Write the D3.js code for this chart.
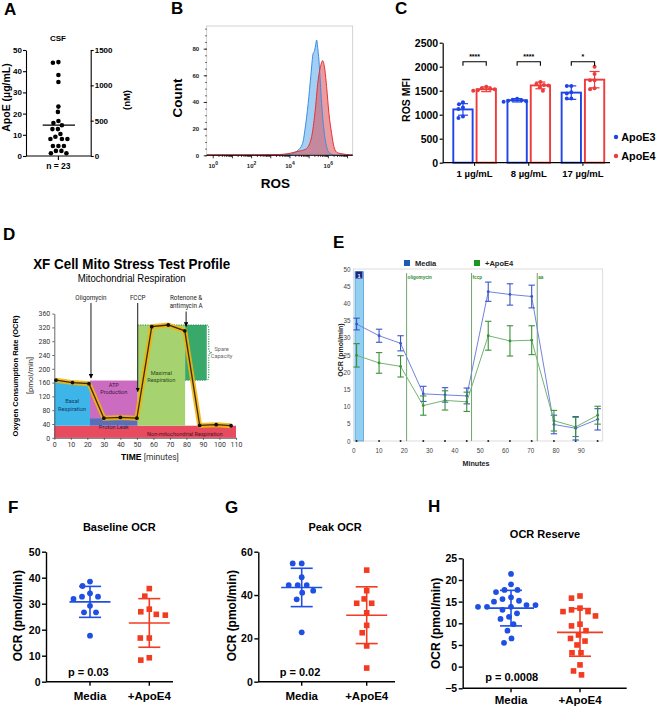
<!DOCTYPE html>
<html><head><meta charset="utf-8">
<script src="https://cdn.jsdelivr.net/npm/d3@7"></script>
<style>body{margin:0;background:#fff}svg{display:block}</style>
</head><body><svg id="chart" width="657" height="707"></svg>
<script>
// ---------------- DATA ----------------
// A: CSF ApoE
const csfApoE = [44.0,44.3,38.2,34.9,23.3,20.8,16.5,15.6,14.5,12.7,12.7,10.4,9.1,8.0,8.0,8.0,4.7,4.7,4.7,2.4,2.4,1.3,1.3];
const csfMean = 14.6;
const csfTicksUg = [0,10,20,30,40,50];
const csfTicksNM = [0,500,1000,1500];
// B: ROS histograms (log10 ROS, count)
const blueLogROS = [-0.34,3.0,4.0,4.17,4.43,4.66,4.78,4.95,5.09,5.21,5.27,5.33,5.39,5.45,5.51,5.58,5.65,5.77,5.91,6.08,6.34,7.27];
const blueCount  = [0,0,0.5,1.5,4,9,19,39,60,76.5,78,82,86.5,80,71.5,55,39,19,6.5,1.5,0,0];
const redLogROS  = [-0.34,2.0,3.47,4.0,4.34,4.6,4.86,5.13,5.30,5.47,5.59,5.70,5.82,5.91,6.03,6.17,6.29,6.46,6.77,7.1,7.27];
const redCount   = [0.4,0.4,0.6,1.5,2.7,3.5,5,14,31.5,56.5,66.5,71,64,51.5,31.5,16.5,6.5,2,1,0.4,0.4];
const countTicks = [0,20,40,60,80];
const rosTickExps = [0,2,4,6];
// C: ROS MFI
const doseGroups = ["1 µg/mL","8 µg/mL","17 µg/mL"];
const genotypes = ["ApoE3","ApoE4"];
const apoe3MFI = [1110,1300,1460], apoe3SD = [120,35,140];
const apoe4MFI = [1530,1610,1730], apoe4SD = [50,70,170];
const apoe3Reps = [[1260,1220,1150,1120,960,930],[1330,1310,1300,1290,1280,1270],[1600,1600,1470,1440,1340,1340]];
const apoe4Reps = [[1580,1550,1530,1510,1500,1540],[1680,1640,1610,1570,1500,1620],[2000,1850,1720,1720,1550,1530]];
const sigStars = ["****","****","*"];
const mfiTicks = [0,500,1000,1500,2000,2500];
// D: XF Cell Mito Stress Test profile
const profTime = [1,11,21,30,40,50,59,69,79,88,98,107];
const profOCR  = [167,160,157,57,59,57,322,327,310,36,38,35];
const regionNames = ["Non-mitochondrial Respiration","Basal|Respiration","ATP|Production","Proton Leak","Maximal|Respiration","Spare|Capacity"];
const regionT0 = [0,0,21.6,21.6,50.5,79.2];
const regionT1 = [110,21.6,50.5,50.5,79.2,92.3];
const regionOCR0 = [0,35,57,35,35,167];
const regionOCR1 = [35,162,166,57,327,327];
const drugNames = ["Oligomycin","FCCP","Rotenone &|antimycin A"];
const drugTime = [22.2,50.5,79.8];
const drugTipOCR = [173,134,323];
const profYTicks = [0,40,80,120,160,200,240,280,320,360];
const profXTicks = [0,10,20,30,40,50,60,70,80,90,100,110];
// E: Seahorse OCR
const eTime = [1.3,10.2,18.7,27.7,36.3,44.9,53.4,62,70.6,79.4,88,96.7];
const mediaOCR = [34.0,30.6,28.4,13.7,13.4,13.1,43.4,42.6,42.0,4.8,3.7,6.3];
const mediaErr = [1.7,1.9,2.2,2.2,2.1,2.3,2.8,3.1,3.3,2.7,3.4,3.1];
const apoe4OCR = [24.9,22.7,21.7,10.3,11.8,11.4,30.6,29.1,29.3,5.9,4.1,7.5];
const apoe4Err = [3.4,3.0,3.1,2.8,2.8,2.8,4.2,4.4,4.2,3.0,2.8,2.6];
const injNames = ["oligomycin","fccp","aa"];
const injTime = [21.1,46.8,72.8];
const eYTicks = [0,5,10,15,20,25,30,35,40,45,50];
const eXTicks = [0,10,20,30,40,50,60,70,80,90];
// F/G/H
const conds = ["Media","+ApoE4"];
const baseMedia = [38.5,36.8,34.0,32.7,32.7,31.8,29.2,26.7,26.7,17.7];
const baseApoE4 = [35.8,32.9,27.9,26.9,25.9,25.6,16.8,16.8,9.2,8.3];
const baseMean = [30.7,22.6], baseSD = [5.95,9.35];
const peakMedia = [54.6,54.6,48.2,44.6,44.6,44.6,42.0,41.1,38.0,22.8];
const peakApoE4 = [51.5,42.0,38.2,36.2,36.2,31.8,26.0,22.6,16.5,6.3];
const peakMean = [43.5,30.7], peakSD = [8.85,13.1];
const resMedia = [21.4,19.0,17.7,17.7,17.2,16.0,15.6,15.2,15.0,14.2,14.2,13.8,13.8,13.8,13.1,12.3,11.5,11.0,9.8,8.3,6.5,5.5];
const resApoE4 = [16.3,15.8,13.5,13.1,12.7,12.7,11.7,9.8,9.4,8.3,7.3,6.5,5.9,5.0,3.2,3.2,0.4,-1.0,-1.9];
const resMean = [13.5,7.9], resSD = [4.1,5.5];

// ---------------- DRAW ----------------
const FONT = '"Liberation Sans", Arial, Helvetica, sans-serif';
const COND = 'Roboto, "Liberation Sans Narrow", "Liberation Sans", sans-serif';
const fmt = d3.format("d");
const svg = d3.select("#chart");
svg.append("rect").attr("width",657).attr("height",707).attr("fill","#fff");

function T(g, x, y, s, o = {}) {
  const t = g.append("text").attr("x", x).attr("y", y).text(s)
    .attr("font-size", o.size || 10).attr("font-weight", o.weight || "bold")
    .attr("text-anchor", o.anchor || "middle").attr("fill", o.fill || "#000")
    .attr("font-family", o.family || FONT);
  if (o.rotate) t.attr("transform", `rotate(-90,${x},${y})`);
  if (o.len) t.attr("textLength", o.len).attr("lengthAdjust", "spacingAndGlyphs");
  return t;
}
function styleAxis(a, fs, sw, o = {}) {
  a.attr("font-family", o.family || FONT).attr("font-size", fs).attr("font-weight", o.weight || "bold");
  a.selectAll("text").attr("fill", o.fill || "#000");
  a.selectAll("path,line").attr("stroke", o.stroke || "#000").attr("stroke-width", sw);
}
function swarm(vals, y, d) {
  const pts = vals.map(v => ({ v, y: y(v), x: 0 }));
  const order = pts.slice().sort((a, b) => a.y - b.y);
  const placed = [];
  for (const p of order) {
    for (let k = 0; k < 600; k++) {
      const off = (k % 2 ? -1 : 1) * Math.ceil(k / 2) * 0.5;
      if (placed.every(q => (q.x - off) ** 2 + (q.y - p.y) ** 2 >= d * d)) { p.x = off; break; }
    }
    placed.push(p);
  }
  return pts;
}

// Panel letters
[["A",4,15],["B",171,13.5],["C",395,13.5],["D",3,240],["E",333,248],["F",8,513],["G",225,513],["H",428,511.5]]
  .forEach(([l,x,y]) => T(svg, x, y, l, { size: 17, anchor: "start" }));

// ===== A =====
(function () {
  const g = svg.append("g");
  const y = d3.scaleLinear().domain([0, 50]).range([156, 50]);
  const yn = d3.scaleLinear().domain([0, 1500]).range([156, 50]);
  const cx = 58.4;
  styleAxis(g.append("g").attr("transform", "translate(26,0)")
    .call(d3.axisLeft(y).tickValues(csfTicksUg).tickFormat(fmt).tickSize(3).tickSizeOuter(0).tickPadding(1)), 8, 1.1);
  styleAxis(g.append("g").attr("transform", "translate(90.7,0)")
    .call(d3.axisRight(yn).tickValues(csfTicksNM).tickFormat(fmt).tickSize(3).tickSizeOuter(0).tickPadding(1)), 8, 1.1);
  g.append("line").attr("x1", 26).attr("x2", 90.7).attr("y1", 156).attr("y2", 156).attr("stroke", "#000").attr("stroke-width", 1.1);
  g.append("line").attr("x1", cx).attr("x2", cx).attr("y1", 156).attr("y2", 160).attr("stroke", "#000").attr("stroke-width", 1.1);
  swarm(csfApoE, y, 5.3).forEach(p => g.append("circle").attr("cx", cx + p.x).attr("cy", p.y).attr("r", 2.3).attr("fill", "#000"));
  g.append("line").attr("x1", 42.7).attr("x2", 75).attr("y1", y(csfMean)).attr("y2", y(csfMean)).attr("stroke", "#000").attr("stroke-width", 1.2);
  T(g, 58, 41, "CSF", { size: 8 });
  T(g, 58.4, 169, "n = 23", { size: 8.5 });
  T(g, 9.5, 97.5, "ApoE (µg/mL)", { size: 10.5, rotate: true });
  T(g, 129.5, 100, "(nM)", { size: 9.5, rotate: true });
})();

// ===== B =====
(function () {
  const g = svg.append("g");
  const x = d3.scaleLog().domain([Math.pow(10, -0.34), Math.pow(10, 7.27)]).range([206.7, 352.7]);
  const y = d3.scaleLinear().domain([0, 97]).range([155.3, 26]);
  g.append("rect").attr("x", 206.7).attr("y", 26).attr("width", 146).attr("height", 129.3)
    .attr("fill", "none").attr("stroke", "#c8c8c8").attr("stroke-width", 0.8);
  const blue = blueLogROS.map((v, i) => [v, blueCount[i]]);
  const red = redLogROS.map((v, i) => [v, redCount[i]]);
  const area = d3.area().x(d => x(Math.pow(10, d[0]))).y0(y(0)).y1(d => y(d[1])).curve(d3.curveMonotoneX);
  const line = d3.line().x(d => x(Math.pow(10, d[0]))).y(d => y(d[1])).curve(d3.curveMonotoneX);
  g.append("path").attr("d", area(blue)).attr("fill", "#8cc3f2").attr("fill-opacity", 0.8);
  g.append("path").attr("d", area(red)).attr("fill", "#dc5a63").attr("fill-opacity", 0.6);
  g.append("path").attr("d", line(blue)).attr("fill", "none").attr("stroke", "#3b8de3").attr("stroke-width", 1);
  g.append("path").attr("d", line(red)).attr("fill", "none").attr("stroke", "#e63232").attr("stroke-width", 1);
  const ya = g.append("g").attr("transform", "translate(206.7,0)")
    .call(d3.axisLeft(y).tickValues(countTicks).tickSize(3).tickSizeOuter(0).tickPadding(4.5));
  ya.select(".domain").remove();
  styleAxis(ya, 6, 0.8, { fill: "#222" });
  const ym = g.append("g").attr("transform", "translate(206.7,0)")
    .call(d3.axisLeft(y).tickValues(d3.range(0, 96, 5)).tickSize(1.5).tickFormat(""));
  ym.select(".domain").remove(); styleAxis(ym, 6, 0.7);
  const xa = g.append("g").attr("transform", "translate(0,155.3)");
  xa.append("line").attr("x1", 206.7).attr("x2", 352.7).attr("stroke", "#000").attr("stroke-width", 0.9);
  for (let e = 0; e <= 7; e++) {
    for (let m = 1; m <= 9; m++) {
      const v = m * Math.pow(10, e);
      if (v > x.domain()[1]) continue;
      xa.append("line").attr("x1", x(v)).attr("x2", x(v)).attr("y1", 0).attr("y2", m === 1 ? 3 : 1.6)
        .attr("stroke", "#000").attr("stroke-width", 0.8);
    }
  }
  rosTickExps.forEach(e => {
    const t = T(g, x(Math.pow(10, e)), 168, "10", { size: 6, fill: "#222" });
    t.append("tspan").attr("dy", -3).attr("font-size", 5).text(e);
  });
  T(g, 182, 98, "Count", { size: 13.5, rotate: true });
  T(g, 275.3, 188.3, "ROS", { size: 13.5 });
})();

// ===== C =====
(function () {
  const g = svg.append("g");
  const y = d3.scaleLinear().domain([0, 2500]).range([162.7, 42.7]);
  const xg = d3.scaleBand().domain(doseGroups).range([447.5, 610]);
  const xi = d3.scaleBand().domain(genotypes).range([5.8, 48.4]).paddingInner(0.17);
  const col = { ApoE3: "#1f45e6", ApoE4: "#ee3b3b" };
  const bw = xi.bandwidth();
  doseGroups.forEach((grp, gi) => {
    const sets = [[apoe3MFI[gi], apoe3SD[gi], apoe3Reps[gi]], [apoe4MFI[gi], apoe4SD[gi], apoe4Reps[gi]]];
    sets.forEach(([m, sd, reps], k) => {
      const gen = genotypes[k];
      const x0 = xg(grp) + xi(gen), cx = x0 + bw / 2, c = col[gen];
      g.append("rect").attr("x", x0).attr("y", y(m)).attr("width", bw).attr("height", y(0) - y(m))
        .attr("fill", "#fff").attr("stroke", c).attr("stroke-width", 1.9);
      g.append("line").attr("x1", cx).attr("x2", cx).attr("y1", y(m - sd)).attr("y2", y(m + sd)).attr("stroke", c).attr("stroke-width", 1.2);
      [m - sd, m + sd].forEach(v => g.append("line").attr("x1", cx - 5).attr("x2", cx + 5).attr("y1", y(v)).attr("y2", y(v)).attr("stroke", c).attr("stroke-width", 1.2));
      swarm(reps, y, 4.4).forEach(p => g.append("circle").attr("cx", cx + p.x).attr("cy", p.y).attr("r", 2).attr("fill", c));
    });
    const b1 = xg(grp) + xi("ApoE3") + bw / 2, b2 = xg(grp) + xi("ApoE4") + bw / 2;
    g.append("path").attr("d", `M${b1},65.7V61.7H${b2}V65.7`).attr("fill", "none").attr("stroke", "#000").attr("stroke-width", 1.1);
    T(g, (b1 + b2) / 2, 58.5, sigStars[gi], { size: 7 });
    const gc = xg(grp) + xg.bandwidth() / 2;
    g.append("line").attr("x1", gc).attr("x2", gc).attr("y1", 162.7).attr("y2", 165.7).attr("stroke", "#000").attr("stroke-width", 1.1);
    T(g, gc, 177, grp, { size: 9.5 });
  });
  styleAxis(g.append("g").attr("transform", "translate(442.7,0)")
    .call(d3.axisLeft(y).tickValues(mfiTicks).tickFormat(fmt).tickSize(3).tickSizeOuter(0).tickPadding(1.5)), 10.5, 1.2);
  g.append("line").attr("x1", 442.7).attr("x2", 610).attr("y1", 162.7).attr("y2", 162.7).attr("stroke", "#000").attr("stroke-width", 1.2);
  T(g, 409.5, 100, "ROS MFI", { size: 10.5, rotate: true });
  genotypes.forEach((gen, i) => {
    g.append("circle").attr("cx", 616).attr("cy", 137 + i * 19).attr("r", 2.2).attr("fill", col[gen]);
    T(g, 621.3, 141 + i * 19, gen, { size: 10.8, anchor: "start" });
  });
})();

// ===== D =====
(function () {
  const g = svg.append("g");
  const x = d3.scaleLinear().domain([0, 110]).range([54.3, 236]);
  const y = d3.scaleLinear().domain([0, 360]).range([437.8, 313.6]);
  const regColors = ["#e84a60", "#3db5e8", "#cb6cc0", "#5a6db8", "#a6d270", "#38a86b"];
  const regText = ["#4a1420", "#123a66", "#3e1640", "#1c2456", "#2e4a18", "#666"];
  regionNames.forEach((n, i) => {
    g.append("rect").attr("x", x(regionT0[i])).attr("y", y(regionOCR1[i]))
      .attr("width", x(regionT1[i]) - x(regionT0[i])).attr("height", y(regionOCR0[i]) - y(regionOCR1[i]))
      .attr("fill", regColors[i]);
  });
  const dg = "#2f8f55";
  g.append("path").attr("d", `M${x(50.5)},${y(327)}H${x(92.3)}M${x(79.2)},${y(167)}H${x(92.3)}`)
    .attr("stroke", dg).attr("stroke-width", 1).attr("stroke-dasharray", "1.2,1.2").attr("fill", "none");
  const bx = x(92.3), bm = x(93.5), bt = x(95.3);
  g.append("path").attr("d", `M${bx},${y(327)}Q${bm},${y(327)} ${bm},${y(315)}L${bm},${y(260)}Q${bm},${y(247)} ${bt},${y(247)}Q${bm},${y(247)} ${bm},${y(234)}L${bm},${y(180)}Q${bm},${y(167)} ${bx},${y(167)}`)
    .attr("fill", "none").attr("stroke", dg).attr("stroke-width", 1.1).attr("stroke-dasharray", "1.2,1.2");
  const labPos = [[79, 12], [10.8, 95], [36, 143], [36, 30.5], [64.8, 178], [101.3, 247]];
  regionNames.forEach((n, i) => {
    const parts = n.split("|");
    const [t, o] = labPos[i];
    parts.forEach((p, k) => T(g, x(t), y(o) + (k - (parts.length - 1) / 2) * 7.6 + 2, p,
      { size: 5.6, weight: "normal", family: COND, fill: regText[i] }));
  });
  const ya = g.append("g").attr("transform", `translate(${x(0)},0)`)
    .call(d3.axisLeft(y).tickValues(profYTicks).tickSize(2).tickSizeOuter(0).tickPadding(2));
  styleAxis(ya, 7, 0.8, { family: COND, weight: "normal", fill: "#333", stroke: "#444" });
  const xa = g.append("g").attr("transform", `translate(0,${y(0)})`)
    .call(d3.axisBottom(x).tickValues(profXTicks).tickSize(2).tickSizeOuter(0).tickPadding(2));
  styleAxis(xa, 7, 0.8, { family: COND, weight: "normal", fill: "#333", stroke: "#444" });
  const pts = profTime.map((t, i) => [x(t), y(profOCR[i])]);
  const ln = d3.line();
  g.append("path").attr("d", ln(pts)).attr("fill", "none").attr("stroke", "#f2b410").attr("stroke-width", 5).attr("stroke-linejoin", "round").attr("stroke-opacity", 0.9);
  g.append("path").attr("d", ln(pts)).attr("fill", "none").attr("stroke", "#3b2a08").attr("stroke-width", 1.3);
  pts.forEach(p => g.append("circle").attr("cx", p[0]).attr("cy", p[1]).attr("r", 1.9).attr("fill", "#111"));
  const defs = svg.append("defs");
  defs.append("marker").attr("id", "arr").attr("viewBox", "0 0 10 10").attr("refX", 9).attr("refY", 5)
    .attr("markerWidth", 5).attr("markerHeight", 5).attr("orient", "auto")
    .append("path").attr("d", "M0,0L10,5L0,10z").attr("fill", "#000");
  drugNames.forEach((n, i) => {
    const parts = n.split("|");
    parts.forEach((p, k) => T(g, x(drugTime[i]), 300 + k * 7.7, p, { size: 6.3, weight: "normal", family: COND, fill: "#222" }));
    const top = 303 + (parts.length - 1) * 8.5;
    g.append("line").attr("x1", x(drugTime[i])).attr("x2", x(drugTime[i])).attr("y1", top).attr("y2", y(drugTipOCR[i]))
      .attr("stroke", "#000").attr("stroke-width", 0.9).attr("marker-end", "url(#arr)");
  });
  T(g, 131.7, 268.5, "XF Cell Mito Stress Test Profile", { size: 15.5, len: 197 });
  T(g, 131.7, 281.5, "Mitochondrial Respiration", { size: 10, weight: "normal", len: 108 });
  T(g, 18, 376, "Oxygen Consumption Rate (OCR)", { size: 7.6, rotate: true, len: 121 });
  T(g, 33, 375.5, "[pmol/min]", { size: 7.6, weight: "normal", rotate: true, family: COND, fill: "#333" });
  const tt = T(g, 150, 459.5, "TIME ", { size: 8.5 });
  tt.append("tspan").attr("font-weight", "normal").attr("font-family", COND).attr("fill", "#333").text("[minutes]");
})();

// ===== E =====
(function () {
  const g = svg.append("g");
  const x = d3.scaleLinear().domain([0, 98.7]).range([353.3, 602.7]);
  const y = d3.scaleLinear().domain([0, 50]).range([441, 269]);
  g.append("rect").attr("x", 353.3).attr("y", 269).attr("width", 249.4).attr("height", 172)
    .attr("fill", "none").attr("stroke", "#d4d4d4").attr("stroke-width", 0.8);
  g.append("rect").attr("x", x(0.7)).attr("y", 271.7).attr("width", x(4) - x(0.7)).attr("height", 441 - 271.7)
    .attr("fill", "#93cff0").attr("stroke", "#4d9fd8").attr("stroke-width", 0.8);
  g.append("rect").attr("x", x(0.9)).attr("y", 271.5).attr("width", x(3.6) - x(0.9)).attr("height", 7)
    .attr("fill", "#1a2580");
  T(g, (x(0.9) + x(3.6)) / 2, 277.5, "1", { size: 5.5, fill: "#fff" });
  injNames.forEach((n, i) => {
    g.append("line").attr("x1", x(injTime[i])).attr("x2", x(injTime[i])).attr("y1", 273).attr("y2", 441)
      .attr("stroke", "#5e9a5e").attr("stroke-width", 0.9);
    T(g, x(injTime[i]) + 1, 278.5, n, { size: 4.6, anchor: "start", fill: "#2f8a2f" });
  });
  const ya = g.append("g").attr("transform", "translate(353.3,0)")
    .call(d3.axisLeft(y).tickValues(eYTicks).tickSize(0).tickPadding(2.8));
  ya.select(".domain").remove();
  styleAxis(ya, 6.3, 0.8, { weight: "normal", fill: "#444" });
  const xa = g.append("g").attr("transform", "translate(0,441)")
    .call(d3.axisBottom(x).tickValues(eXTicks).tickSize(0).tickPadding(8));
  xa.select(".domain").remove();
  styleAxis(xa, 6.3, 0.8, { weight: "normal", fill: "#444" });
  eTime.forEach(t => g.append("circle").attr("cx", x(t)).attr("cy", y(0)).attr("r", 1).attr("fill", "#222"));
  const series = [[mediaOCR, mediaErr, "#7184dc", "#3a56c8"], [apoe4OCR, apoe4Err, "#72b472", "#3a913a"]];
  series.forEach(([vals, err, lc, ec]) => {
    const pts = eTime.map((t, i) => [x(t), y(vals[i])]);
    g.append("path").attr("d", d3.line()(pts)).attr("fill", "none").attr("stroke", lc).attr("stroke-width", 1);
    eTime.forEach((t, i) => {
      const cx = x(t);
      g.append("line").attr("x1", cx).attr("x2", cx).attr("y1", y(vals[i] - err[i])).attr("y2", y(vals[i] + err[i])).attr("stroke", ec).attr("stroke-width", 1.1);
      [vals[i] - err[i], vals[i] + err[i]].forEach(v => g.append("line").attr("x1", cx - 3.2).attr("x2", cx + 3.2).attr("y1", y(v)).attr("y2", y(v)).attr("stroke", ec).attr("stroke-width", 1.1));
      g.append("circle").attr("cx", cx).attr("cy", y(vals[i])).attr("r", 1.4).attr("fill", ec);
    });
  });
  [["Media", "#1f5bb5", 404], ["+ApoE4", "#1c961c", 474]].forEach(([n, c, lx]) => {
    g.append("rect").attr("x", lx).attr("y", 260).attr("width", 6).attr("height", 6).attr("fill", c);
    T(g, lx + 11, 265.5, n, { size: 7.5, anchor: "start", fill: "#222" });
  });
  T(g, 476, 466, "Minutes", { size: 7.2, fill: "#222" });
  T(g, 343, 350, "OCR (pmol/min)", { size: 7, rotate: true, fill: "#222" });
})();

// ===== F / G / H =====
function dotPanel(o) {
  const g = svg.append("g");
  const y = d3.scaleLinear().domain(o.yDomain).range(o.yRange);
  const x = d3.scalePoint().domain(conds).range(o.catRange);
  const ax = g.append("g").attr("transform", `translate(${o.axisX},0)`)
    .call(d3.axisLeft(y).tickValues(o.ticks).tickFormat(fmt).tickSize(4).tickSizeOuter(0).tickPadding(1.5));
  styleAxis(ax, 10.5, 1.4);
  const y0 = o.yRange[0];
  g.append("line").attr("x1", o.axisX).attr("x2", o.axisEnd).attr("y1", y0).attr("y2", y0).attr("stroke", "#000").attr("stroke-width", 1.4);
  conds.forEach(c => {
    g.append("line").attr("x1", x(c)).attr("x2", x(c)).attr("y1", y0).attr("y2", y0 + 4).attr("stroke", "#000").attr("stroke-width", 1.4);
    T(g, x(c), o.labY, c, { size: 11.5 });
  });
  T(g, o.titleX, o.titleY, o.title, { size: 11 });
  T(g, o.ylabX, o.ylabY, "OCR (pmol/min)", { size: 12, rotate: true });
  T(g, o.pX, o.pY, o.pText, { size: 11 });
  const colors = ["#1f4fe3", "#f23b20"];
  [o.media, o.apoe].forEach((vals, k) => {
    const c = colors[k], cx = x(conds[k]);
    swarm(vals, y, 8.6).forEach(p => {
      if (k === 0) g.append("circle").attr("cx", cx + p.x).attr("cy", p.y).attr("r", 2.9).attr("fill", c);
      else g.append("rect").attr("x", cx + p.x - 2.8).attr("y", p.y - 2.8).attr("width", 5.6).attr("height", 5.6).attr("fill", c);
    });
    const m = o.mean[k], sd = o.sd[k];
    g.append("line").attr("x1", cx - o.meanHalf).attr("x2", cx + o.meanHalf).attr("y1", y(m)).attr("y2", y(m)).attr("stroke", c).attr("stroke-width", 1.6);
    g.append("line").attr("x1", cx).attr("x2", cx).attr("y1", y(m - sd)).attr("y2", y(m + sd)).attr("stroke", c).attr("stroke-width", 1.6);
    [m - sd, m + sd].forEach(v => g.append("line").attr("x1", cx - 11).attr("x2", cx + 11).attr("y1", y(v)).attr("y2", y(v)).attr("stroke", c).attr("stroke-width", 1.6));
  });
}
dotPanel({ yDomain: [0, 50], yRange: [681.7, 551.7], ticks: [0, 10, 20, 30, 40, 50], axisX: 46, axisEnd: 173,
  catRange: [90, 149.3], labY: 699.5, title: "Baseline OCR", titleX: 119.3, titleY: 530.7,
  ylabX: 22.5, ylabY: 615.7, pText: "p = 0.03", pX: 88.3, pY: 675.7,
  media: baseMedia, apoe: baseApoE4, mean: baseMean, sd: baseSD, meanHalf: 20.5 });
dotPanel({ yDomain: [0, 60], yRange: [681.7, 551.7], ticks: [0, 20, 40, 60], axisX: 258.3, axisEnd: 395,
  catRange: [301.7, 366.7], labY: 699.5, title: "Peak OCR", titleX: 335, titleY: 530.7,
  ylabX: 236.5, ylabY: 615.7, pText: "p = 0.02", pX: 300, pY: 675.7,
  media: peakMedia, apoe: peakApoE4, mean: peakMean, sd: peakSD, meanHalf: 20.5 });
dotPanel({ yDomain: [-5, 25], yRange: [688.3, 558.3], ticks: [-5, 0, 5, 10, 15, 20, 25], axisX: 462.7, axisEnd: 626.7,
  catRange: [511, 580], labY: 704, title: "OCR Reserve", titleX: 545, titleY: 537.5,
  ylabX: 440, ylabY: 623.3, pText: "p = 0.0008", pX: 511.7, pY: 680.5,
  media: resMedia, apoe: resApoE4, mean: resMean, sd: resSD, meanHalf: 23 });
</script></body></html>
